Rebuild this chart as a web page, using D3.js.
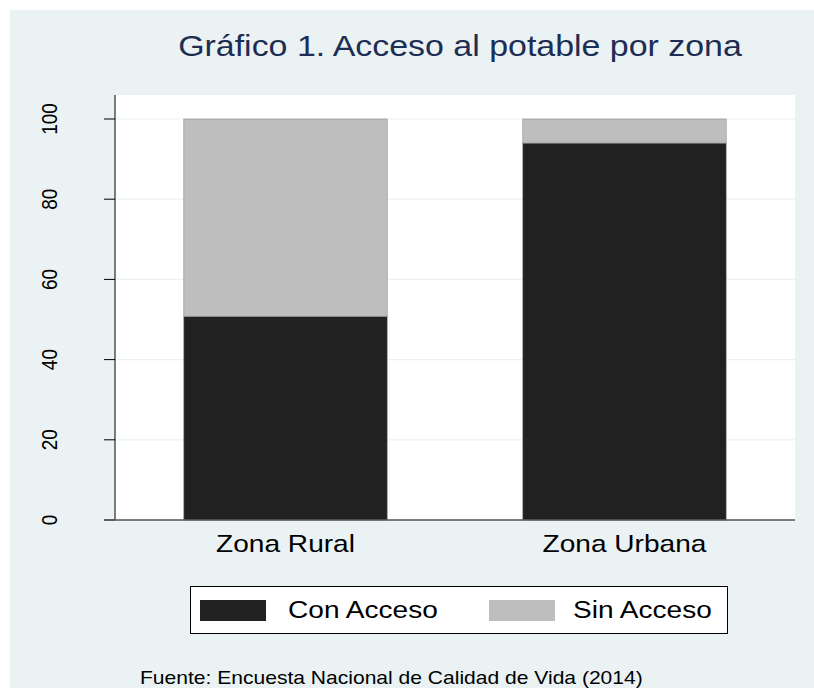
<!DOCTYPE html>
<html>
<head>
<meta charset="utf-8">
<script src="https://cdn.jsdelivr.net/npm/d3@7"></script>
<style>
  body { margin: 0; background: #fff; overflow: hidden; }
  svg { display: block; font-family: "Liberation Sans", Arial, sans-serif; }
</style>
</head>
<body>
<div id="chart"></div>
<script>
// data
var zonas = ["Zona Rural", "Zona Urbana"],
    conAcceso = [50.8, 94.0],
    sinAcceso = [49.2, 6.0],
    series = ["Con Acceso", "Sin Acceso"],
    yTicks = [0, 20, 40, 60, 80, 100];

var width = 814, height = 688,
    plot = {left: 115, right: 795, top: 95, bottom: 520},
    sx = 1.17; // the original picture is stretched sideways

var colors = {"Con Acceso": "#212121", "Sin Acceso": "#bebebe"};

var svg = d3.select("#chart").append("svg")
  .attr("width", width)
  .attr("height", height);

// place a text at x,y, stretched like the original
function put(sel, x, y, extra) {
  return sel.attr("transform", "translate(" + x + "," + y + ") scale(" + sx + ",1)" + (extra || ""));
}

// outer background
svg.append("rect")
  .attr("x", 10).attr("y", 10)
  .attr("width", width - 10).attr("height", height - 10)
  .style("fill", "#eaf2f3");

// plot region
svg.append("rect")
  .attr("x", plot.left).attr("y", plot.top)
  .attr("width", plot.right - plot.left).attr("height", plot.bottom - plot.top)
  .style("fill", "#fff");

var x = d3.scaleBand()
  .domain(zonas)
  .range([plot.left, plot.right])
  .paddingInner(0.4)
  .paddingOuter(0.203);

var y = d3.scaleLinear()
  .domain([0, 100])
  .range([plot.bottom, 119]);

// gridlines
svg.selectAll("line.grid")
  .data(yTicks.filter(d => d > 0))
  .enter().append("line")
  .attr("class", "grid")
  .attr("x1", plot.left).attr("x2", plot.right)
  .attr("y1", d => y(d)).attr("y2", d => y(d))
  .style("stroke", "#eaf2f3")
  .style("stroke-width", 1.2);

// stacked bars
var rows = zonas.map(function(z, i) {
  return {zona: z, "Con Acceso": conAcceso[i], "Sin Acceso": sinAcceso[i]};
});
var stack = d3.stack().keys(series)(rows);

svg.selectAll("g.layer")
  .data(stack)
  .enter().append("g")
  .attr("class", "layer")
  .style("fill", d => colors[d.key])
  .selectAll("rect")
  .data(d => d)
  .enter().append("rect")
  .attr("x", d => x(d.data.zona))
  .attr("width", x.bandwidth())
  .attr("y", d => y(d[1]))
  .attr("height", d => y(d[0]) - y(d[1]))
  .style("stroke", "#8a8a8a")
  .style("stroke-width", 0.6);

// y axis
var yAxis = svg.append("g")
  .attr("transform", "translate(" + plot.left + ",0)")
  .call(d3.axisLeft(y).tickValues(yTicks).tickSize(11).tickFormat(d3.format("d")));
yAxis.select(".domain").attr("d", "M0," + plot.top + "V" + plot.bottom).style("stroke", "#000");
yAxis.selectAll(".tick line").style("stroke", "#000");
yAxis.selectAll(".tick").attr("transform", null);
yAxis.selectAll(".tick line").attr("y1", d => y(d)).attr("y2", d => y(d));
yAxis.selectAll(".tick text")
  .attr("x", null).attr("dy", null)
  .each(function(d) { put(d3.select(this), 57 - plot.left, y(d), " rotate(-90)"); })
  .attr("text-anchor", "middle")
  .style("font-size", "19px")
  .style("fill", "#000");

// x axis baseline
svg.append("line")
  .attr("x1", plot.left - 11).attr("x2", plot.right)
  .attr("y1", plot.bottom).attr("y2", plot.bottom)
  .style("stroke", "#555")
  .style("stroke-width", 1.5);

// category labels
svg.selectAll("text.cat")
  .data(zonas)
  .enter().append("text")
  .attr("class", "cat")
  .each(function(d) { put(d3.select(this), x(d) + x.bandwidth() / 2, 552); })
  .attr("text-anchor", "middle")
  .style("font-size", "24px")
  .text(d => d);

// title
put(svg.append("text"), 460, 56)
  .attr("text-anchor", "middle")
  .style("font-size", "29px")
  .style("fill", "#1e2d53")
  .text("Gráfico 1. Acceso al potable por zona");

// legend
var legend = svg.append("g");
legend.append("rect")
  .attr("x", 190.5).attr("y", 586.5)
  .attr("width", 537).attr("height", 47)
  .style("fill", "#fff").style("stroke", "#000");

var legX = [200, 489];
var item = legend.selectAll("g.item")
  .data(series)
  .enter().append("g")
  .attr("class", "item")
  .attr("transform", (d, i) => "translate(" + legX[i] + ",600)");
item.append("rect")
  .attr("width", 66).attr("height", 21)
  .style("fill", d => colors[d]);
item.append("text")
  .each(function(d, i) { put(d3.select(this), i ? 84 : 88, 18); })
  .style("font-size", "24px")
  .text(d => d);

// footer
put(svg.append("text"), 140, 684)
  .style("font-size", "18px")
  .text("Fuente: Encuesta Nacional de Calidad de Vida (2014)");
</script>
</body>
</html>
